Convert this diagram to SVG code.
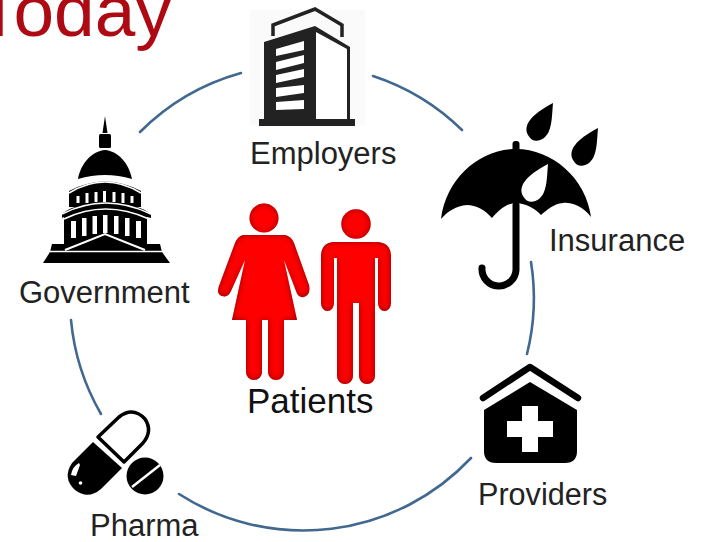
<svg xmlns="http://www.w3.org/2000/svg" width="704" height="542" viewBox="0 0 704 542">
<defs>
<filter id="bev" x="-15%" y="-15%" width="130%" height="130%">
<feFlood flood-color="#600010" result="f"/>
<feComposite in="f" in2="SourceAlpha" operator="out" result="o"/>
<feGaussianBlur in="o" stdDeviation="3" result="b"/>
<feComposite in="b" in2="SourceAlpha" operator="in" result="s"/>
<feMerge><feMergeNode in="SourceGraphic"/><feMergeNode in="s"/></feMerge>
</filter>
</defs>
<style>
.lbl{font-family:"Liberation Sans",Arial,sans-serif;font-size:31px;fill:#222}
.arc{fill:none;stroke:#41688f;stroke-width:2.6;stroke-linecap:round}
.k{fill:#000}
.w{fill:#fff}
.wl{fill:none;stroke:#fff;stroke-width:1.6}
.r{fill:#f00}
</style>
<rect width="704" height="542" fill="#fff"/>
<text id="title" x="-23" y="36" style="font-family:'Liberation Sans',Arial,sans-serif;font-size:73px;fill:#ad0a14">Today</text>
<g id="connectors">
<path class="arc" d="M140 132A230 230 0 0 1 241 73"/>
<path class="arc" d="M373 76A230 230 0 0 1 462 130"/>
<path class="arc" d="M531 262A230 230 0 0 1 527 354"/>
<path class="arc" d="M471 458A230 230 0 0 1 179 494"/>
<path class="arc" d="M101 414A230 230 0 0 1 71 320"/>
</g>
<g id="employers">
<rect x="250" y="10" width="115" height="115" fill="#fafafa"/>
<path d="M273 36V25L315 9L342 25V37" fill="none" stroke="#222" stroke-width="3.500"/>
<path d="M264 42L315 26L350 47V122H264Z" fill="#222"/>
<path class="w" d="M316 32L347 49V119H316Z"/>
<path class="w" d="M276 49L304 41V50L276 56ZM276 62L304 55V63L276 70ZM276 75L304 69V77L276 83ZM276 88L304 85V93L276 97ZM276 102L304 100V109L276 110Z"/>
<rect x="259" y="119" width="96" height="7" fill="#222"/>
<text class="lbl" x="250" y="164">Employers</text>
</g>
<g id="government">
<path class="k" d="M105 116L107.500 133H102.500Z"/>
<rect class="k" x="99" y="134" width="12" height="14" rx="1.500"/>
<path class="k" d="M78 179C81 163 92 151 105 150C118 151 129 163 132 179Q105 171 78 179Z"/>
<path class="k" d="M69 191Q105 172 141 191V207H69Z"/>
<path class="k" d="M62 214Q65 211 72 208Q105 197 140 208Q148 211 151 215V218L147 217V250H64V217L62 218Z"/>
<path class="k" d="M52 244H160L162 252H50Z"/>
<path class="k" d="M50 252H162L170 263H43Z"/>
<path class="wl" d="M69 193Q105 171 141 193"/>
<path class="wl" d="M62 214Q105 192 151 214"/>
<path class="wl" d="M64 219Q105 199 149 219"/>
<path class="w" d="M76.500 196h3v7h-3zM85.500 193h3v10h-3zM94.500 192h3v10h-3zM103 191h3v11h-3zM112.500 192h3v10h-3zM121.500 193h3v10h-3zM130.500 196h3v7h-3z"/>
<path class="w" d="M71 221h5v17h-5zM82 218h4.500v18h-4.500zM92.500 216h4.500v18h-4.500zM103 215h4.500v18h-4.500zM114 216h4.500v18h-4.500zM125 218h4.500v18h-4.500zM136 221h5v17h-5z"/>
<path d="M65 250L105 234L145 250" fill="none" stroke="#fff" stroke-width="2"/>
<path d="M50 251.500H162" stroke="#fff" stroke-width="1.500"/>
<text class="lbl" x="19" y="303">Government</text>
</g>
<g id="insurance">
<path class="k" d="M553 103C552 115 552 124 549 131C545 141 533 145 528 135C523 126 530 115 553 103Z"/>
<path class="k" d="M598 128C597 140 597 149 594 156C590 166 578 170 573 160C568 151 575 140 598 128Z"/>
<rect class="k" x="512.500" y="141" width="7" height="14" rx="3"/>
<path class="k" d="M441 219C446 178 480 149 516 149C552 149 586 178 591 217C583 206 570 202 563 203C553 204 547 210 541 215C535 208 525 203 515 203C505 204 498 211 492 218C485 210 476 205 467 205C456 206 448 211 441 219Z"/>
<path class="w" d="M548 164C547 176 547 185 544 192C540 202 528 206 523 196C518 187 525 176 548 164Z"/>
<path d="M516 205V270A17 17 0 0 1 482 268" fill="none" stroke="#000" stroke-width="7" stroke-linecap="round"/>
<text class="lbl" x="549" y="251">Insurance</text>
</g>
<g id="providers">
<path d="M483 398L530 367L578 398" fill="none" stroke="#000" stroke-width="6.500" stroke-linecap="round" stroke-linejoin="round"/>
<path class="k" d="M484 410L530 382L577 410V451Q577 463 565 463H496Q484 463 484 451Z"/>
<path class="w" d="M522 406H538V421H553V437H538V452H522V437H507V421H522Z"/>
<text class="lbl" x="478" y="505" style="font-size:30.600px">Providers</text>
</g>
<g id="pharma">
<path class="k" d="M93 442L122 468L101 489Q88 500 75 490Q62 478 72 463Z"/>
<path d="M98 437L124 462L143 443Q153 431 145 419Q133 406 119 417Z" fill="#fff" stroke="#000" stroke-width="3.500" stroke-linejoin="round"/>
<circle class="k" cx="145" cy="476" r="18.500"/>
<path d="M132 487L160 465" stroke="#fff" stroke-width="2.500"/>
<path class="w" d="M79 463Q72 467 71 475L76 476L80 465Z"/>
<circle class="w" cx="80.500" cy="483" r="1.800"/>
<text class="lbl" x="90" y="535.500">Pharma</text>
</g>
<g id="patients">
<g filter="url(#bev)" class="r">
<circle cx="264" cy="218" r="14.500"/>
<path d="M243 235H285Q291 236 294 243L309 285Q311 295 304 297Q298 298 296 291L284 260L297 320H284V372A8 8 0 0 1 268 372V320H262V372A8 8 0 0 1 246 372V320H232L245 260L231 291Q228 298 222 296Q216 294 219 286L235 243Q238 236 243 235Z"/>
</g>
<g filter="url(#bev)" class="r">
<circle cx="356" cy="224" r="14.700"/>
<path d="M333 242H378Q390 243 391 255V303A6.500 8 0 0 1 378 303V258H375V376A8 8 0 0 1 359 376V303H353V376A8 8 0 0 1 337 376V258H334V303A6.500 8 0 0 1 321 303V255Q322 243 333 242Z"/>
</g>
<text x="247" y="413" style="font-family:'Liberation Sans',Arial,sans-serif;font-size:35px;fill:#111">Patients</text>
</g>
</svg>
